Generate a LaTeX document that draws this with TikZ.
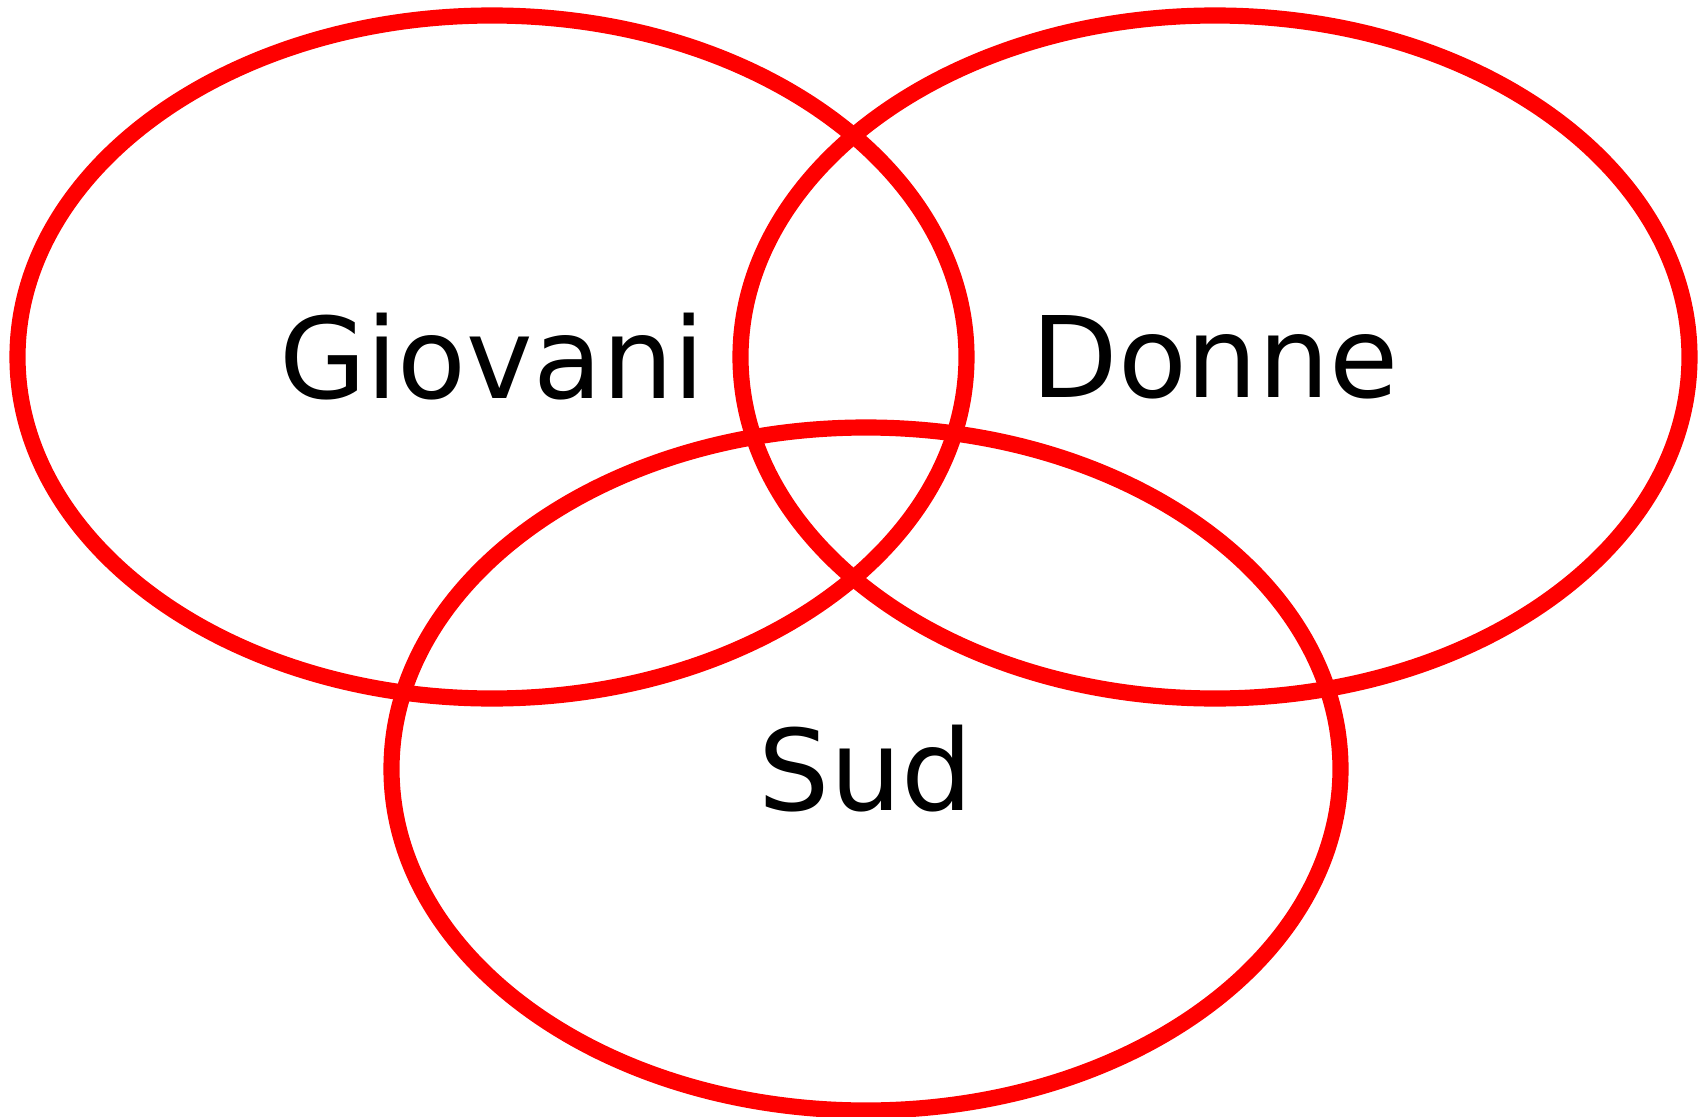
\documentclass[tikz,border=0pt]{standalone}
\usepackage{fontspec}
\setmainfont{DejaVu Sans}
\usetikzlibrary{shapes.geometric}

\tikzset{
  insieme/.style={ellipse, draw=red, line width=4.6pt, inner sep=0pt,
    minimum width=9.49cm, minimum height=6.83cm,
    font=\fontsize{32}{38}\selectfont}
}

\begin{document}
\begin{tikzpicture}
			\useasboundingbox (0,0) rectangle (17.05,-11.17);
			\node[insieme](giovani) at (4.92,-3.57){Giovani};
			\node[insieme](donne) at (12.15,-3.57){Donne};
			\node[insieme](sud) at (8.66,-7.69){Sud};
			\end{tikzpicture}
\end{document}
